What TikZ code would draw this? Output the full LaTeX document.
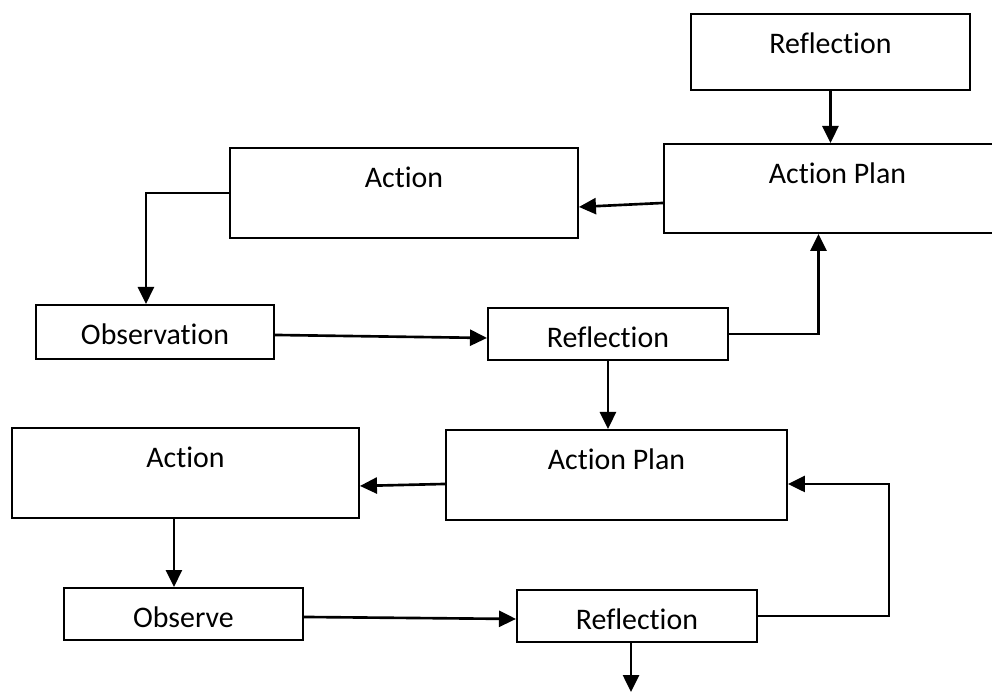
\documentclass[tikz,border=0pt]{standalone}
\usepackage{fontspec}
\setmainfont{Carlito}[Ligatures=NoCommon]
\usetikzlibrary{arrows.meta}

\begin{document}
\begin{tikzpicture}[
    stagebox/.style={draw, rectangle, line width=1.1pt, inner sep=0pt, anchor=north west,
        text height=0.79cm, font=\fontsize{17}{20}\selectfont},
    flow/.style={line width=1.5pt, -{Triangle[length=0.34cm,width=0.32cm]}}
]
    \useasboundingbox (0,0) rectangle (19.84,-13.84);
    \clip (0,0) rectangle (19.84,-13.84);

    % First cycle
    \node[stagebox, minimum width=5.58cm, text depth=0.73cm] (refl0) at (13.80,-0.26) {Reflection};
    \node[stagebox, minimum width=6.94cm, text depth=0.99cm] (plan1) at (13.26,-2.86) {Action Plan};
    \node[stagebox, minimum width=6.96cm, text depth=1.01cm] (act1) at (4.58,-2.94) {Action};
    \node[stagebox, minimum width=4.76cm, text depth=0.29cm] (obs1) at (0.70,-6.08) {Observation};
    \node[stagebox, minimum width=4.80cm, text depth=0.25cm] (refl1) at (9.74,-6.14) {Reflection};

    % Second cycle
    \node[stagebox, minimum width=6.82cm, text depth=1.01cm] (plan2) at (8.90,-8.58) {Action Plan};
    \node[stagebox, minimum width=6.94cm, text depth=1.01cm] (act2) at (0.22,-8.54) {Action};
    \node[stagebox, minimum width=4.78cm, text depth=0.25cm] (obs2) at (1.26,-11.74) {Observe};
    \node[stagebox, minimum width=4.80cm, text depth=0.25cm] (refl2) at (10.32,-11.78) {Reflection};
    \coordinate (next) at (12.62,-13.84);

    \draw[flow] (refl0.south) -- (refl0.south |- plan1.north);
    \draw[flow] ([yshift=-0.29cm]plan1.west) -- ([yshift=-0.28cm]act1.east);
    \draw[flow] (act1.west) -| ([xshift=-0.18cm]obs1.north);
    \draw[flow] ([yshift=-0.06cm]obs1.east) -- ([yshift=-0.08cm]refl1.west);
    \draw[flow] (refl1.east) -| ([xshift=-0.38cm]plan1.south);

    \draw[flow] (refl1.south) -- (refl1.south |- plan2.north);
    \draw[flow] ([yshift=-0.18cm]plan2.west) -- ([yshift=-0.26cm]act2.east);
    \draw[flow] ([xshift=-0.23cm]act2.south) -- ([xshift=-0.23cm]act2.south |- obs2.north);
    \draw[flow] ([yshift=-0.06cm]obs2.east) -- ([yshift=-0.06cm]refl2.west);
    \draw[flow] (refl2.east) -- ++(2.62,0) |- ([yshift=-0.18cm]plan2.east);
    \draw[flow] (refl2.south -| next) -- (next);
\end{tikzpicture}
\end{document}
